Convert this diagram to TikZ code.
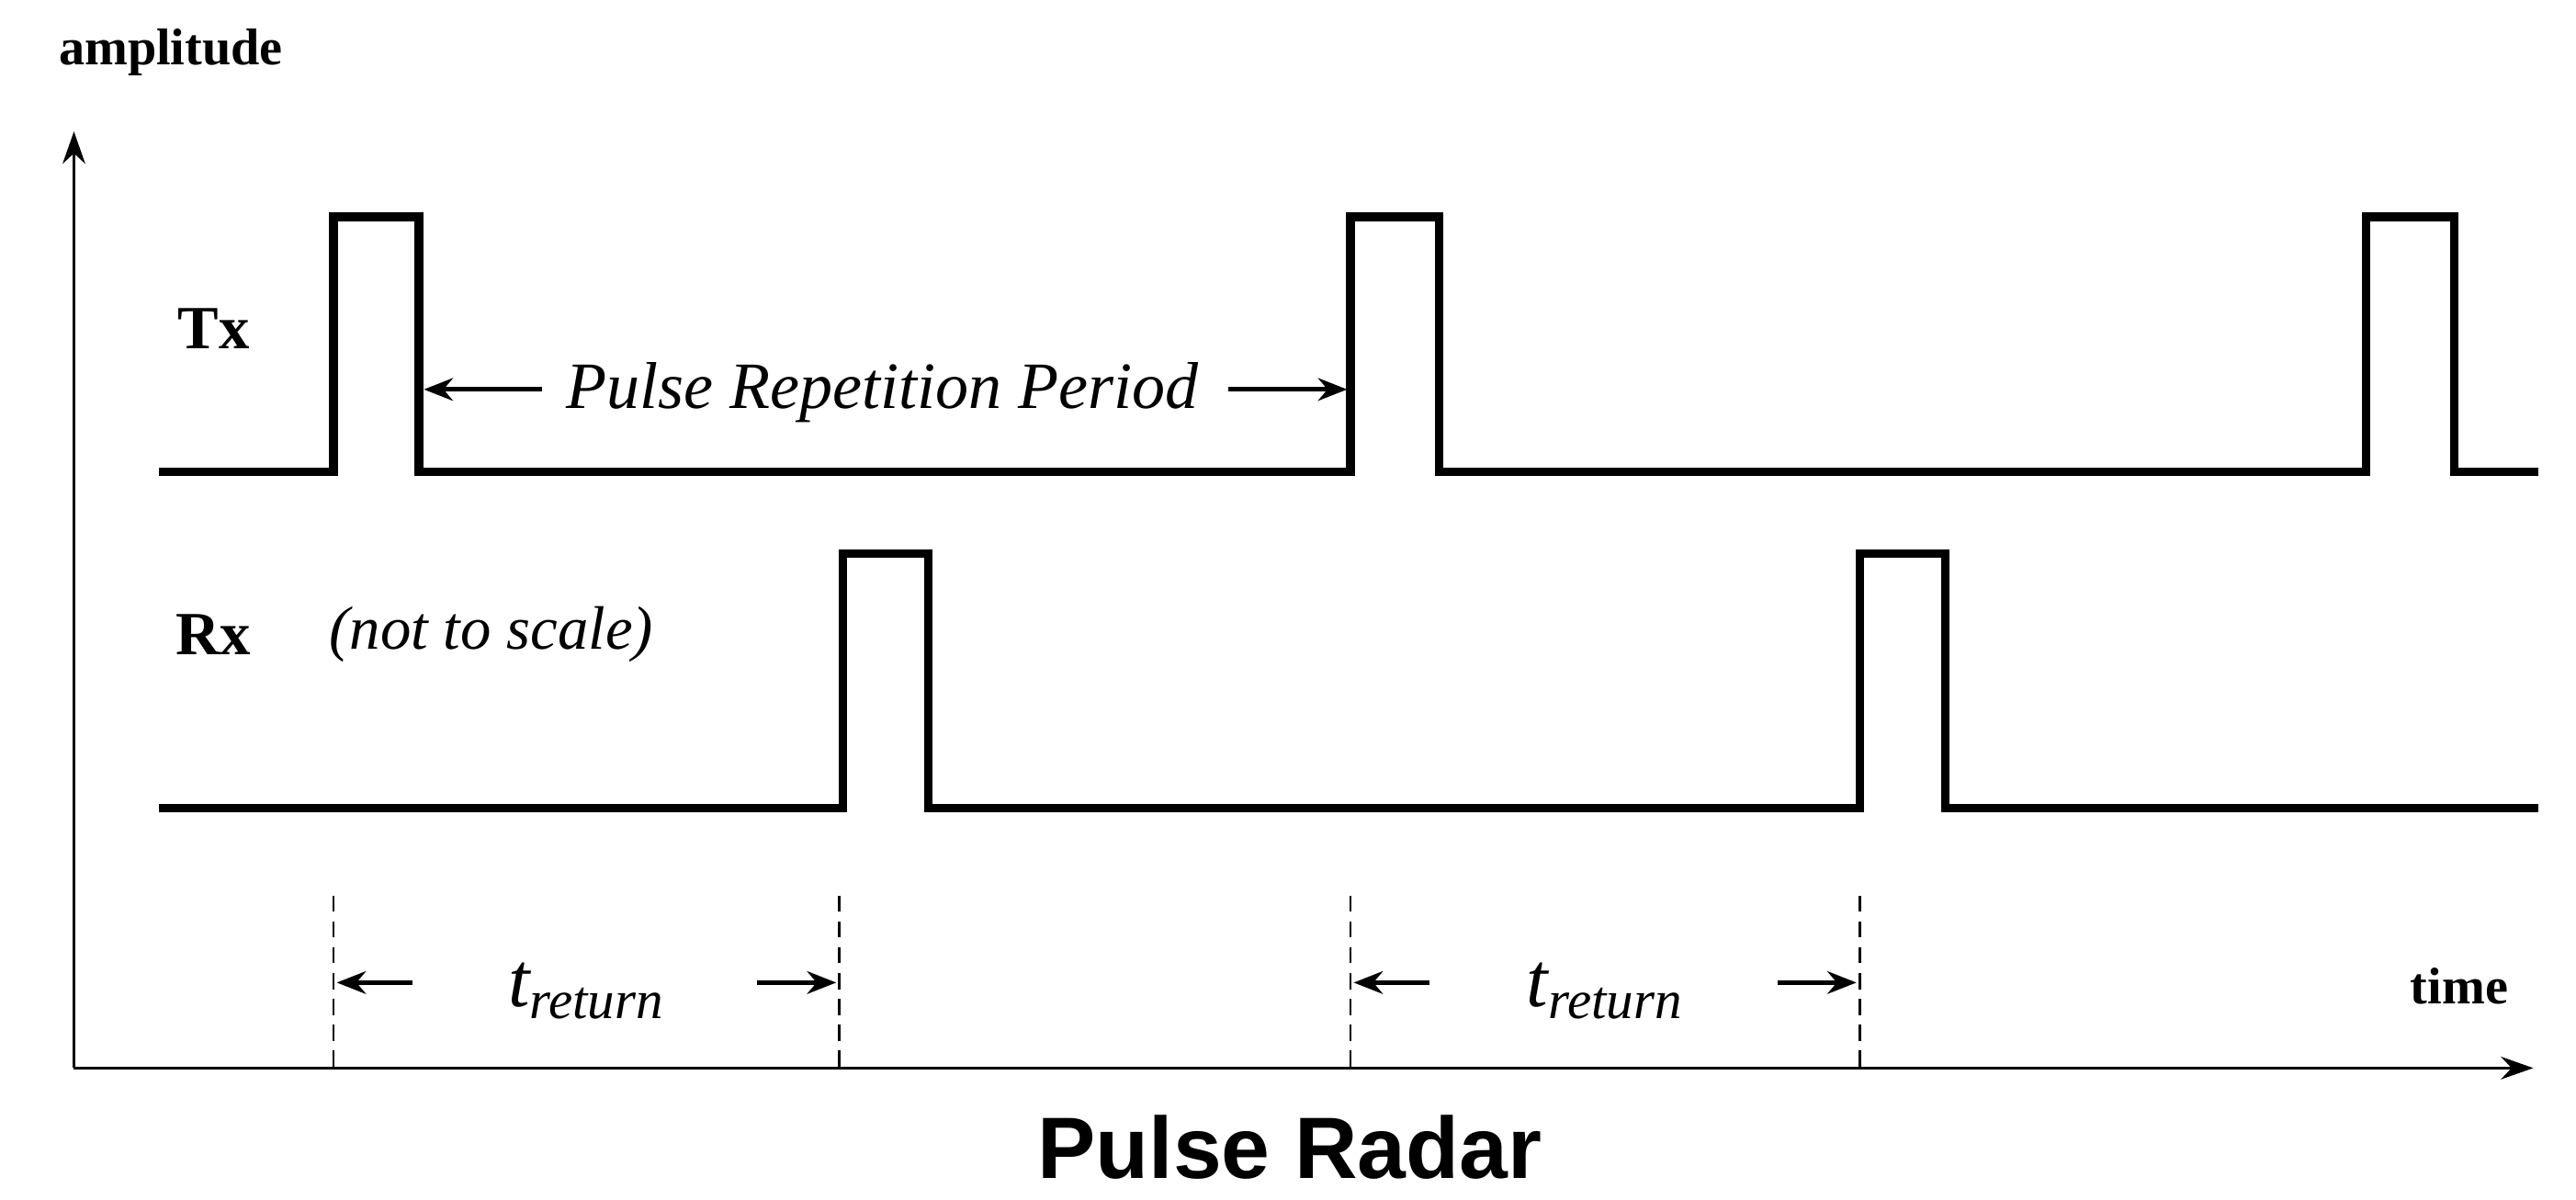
\documentclass[tikz,border=0pt]{standalone}
\usepackage{fontspec}
\setmainfont{Liberation Serif}
\newfontfamily\titlefont{Liberation Sans}
\usetikzlibrary{positioning, arrows, arrows.meta}
\tikzstyle{arrow} = [thick,->,>=stealth]

\begin{document}
\begin{tikzpicture}[x=0.01788cm, y=-0.01788cm]
                \tikzstyle{every node}=[font=\fontsize{19}{22}\selectfont, inner sep=0pt]
                \tikzstyle{axis} = [line width=1pt, -{Stealth[length=10pt,width=7pt]}]
                \tikzstyle{signal} = [line width=2.6pt, line join=miter]
                \tikzstyle{marker} = [line width=0.8pt, dashed, dash pattern=on 5pt off 3pt]
                \tikzstyle{span} = [line width=1.4pt, -{Stealth[length=9pt,width=7pt]}]
                \tikzstyle{label} = [font=\fontsize{19}{22}\selectfont\bfseries]

                \useasboundingbox (0,0) rectangle (1568,730);

                % axes
                \coordinate (o) at (45,650);
                \coordinate (ytop) at (45,80);
                \coordinate (xend) at (1542,650);
                \draw[axis] (o) -- (ytop);
                \draw[axis] (o) -- (xend);
                \node[label, font=\fontsize{16}{18}\selectfont\bfseries](amp) at (104,32) {amplitude};
                \node[label, font=\fontsize{16}{18}\selectfont\bfseries](time) at (1497,600) {time};

                % transmit pulses
                \draw[signal] (97,287) -- (203,287) -- (203,132) -- (255,132) -- (255,287)
                    -- (822,287) -- (822,132) -- (876,132) -- (876,287)
                    -- (1440,287) -- (1440,132) -- (1494,132) -- (1494,287) -- (1545,287);
                \node[label](tx) at (130,200) {Tx};

                % receive pulses
                \draw[signal] (97,492) -- (513,492) -- (513,337) -- (565,337) -- (565,492)
                    -- (1132,492) -- (1132,337) -- (1184,337) -- (1184,492) -- (1545,492);
                \node[label](rx) at (130,386) {Rx};
                \node[font=\fontsize{19}{22}\selectfont\itshape](scale) at (299,386) {(not to scale)};

                % repetition period
                \node[font=\fontsize{20.5}{24}\selectfont\itshape](prp) at (537,239) {Pulse Repetition Period};
                \coordinate (prpl) at (258,237);
                \coordinate (prpr) at (820,237);
                \draw[span] (prp.west) ++(-14,-2) coordinate (pl) -- (prpl);
                \draw[span] (prp.east) ++(18,-2) coordinate (pr) -- (prpr);

                % return times
                \foreach \a/\b/\n in {203/511/1, 822/1132/2}{
                    \draw[marker] (\a,545) coordinate (d\n a) -- (\a,650);
                    \draw[marker] (\b,545) coordinate (d\n b) -- (\b,650);
                    \node[font=\fontsize{24}{26}\selectfont\itshape](ret\n) at ({(\a+\b)/2},603) {t\textsubscript{return}};
                    \draw[span] (\a+48,598) -- (\a+2,598);
                    \draw[span] (\b-50,598) -- (\b-2,598);
                }

                \node[font=\titlefont\fontsize{27}{30}\selectfont\bfseries](title) at (785,698) {Pulse Radar};
\end{tikzpicture}
\end{document}
